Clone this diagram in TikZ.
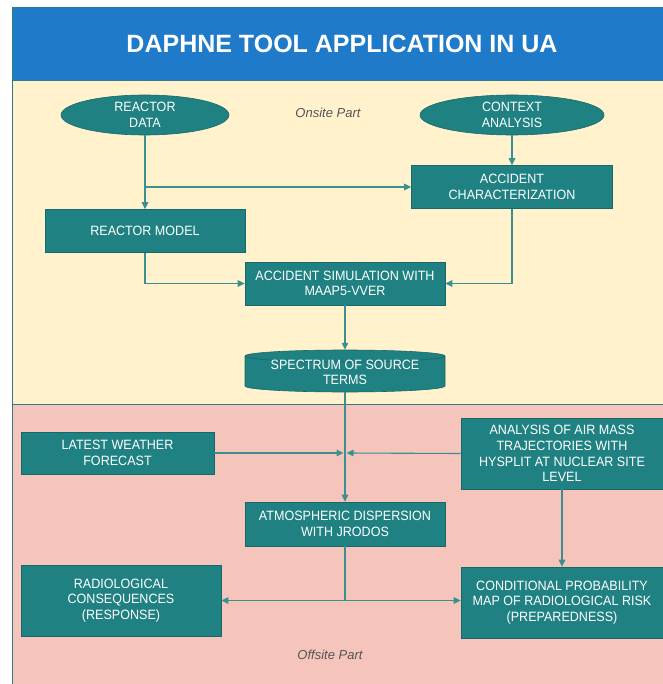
\documentclass[tikz,border=0pt]{standalone}
\usepackage{fontspec}
\setmainfont{Liberation Sans}
\newfontfamily\nodefont[FakeStretch=0.93]{Liberation Sans}
\usetikzlibrary{arrows.meta,positioning,calc,shapes.geometric}
\definecolor{teal1}{HTML}{1F8181}
\definecolor{tealdark}{HTML}{17686A}
\definecolor{lineteal}{HTML}{3A8F90}
\definecolor{titleblue}{HTML}{1F7BC9}
\definecolor{onsite}{HTML}{FFF2CC}
\definecolor{offsite}{HTML}{F5C4BB}
\definecolor{framec}{HTML}{2C7A8A}
\definecolor{partgray}{HTML}{555555}
\begin{document}
\begin{tikzpicture}[x=1pt,y=-1pt,
  box/.style={rectangle,fill=teal1,draw=tealdark,line width=0.6pt,text=white,align=center,
    font=\nodefont\fontsize{13.5}{15.6}\selectfont,inner sep=0pt},
  oval/.style={ellipse,fill=teal1,draw=tealdark,line width=0.6pt,text=white,align=center,
    font=\nodefont\fontsize{13.5}{15.6}\selectfont,inner sep=0pt},
  txtonly/.style={rectangle,align=center,text=white,inner sep=0pt,
    font=\nodefont\fontsize{13.5}{15.6}\selectfont},
  conn/.style={draw=lineteal,line width=1.1pt,-{Triangle[length=7pt,width=6.5pt]}},
  plain/.style={draw=lineteal,line width=1.1pt},
  part/.style={font=\itshape\fontsize{13}{15}\selectfont,text=partgray}
]
\useasboundingbox (0,0) rectangle (662,684);
% bands
\fill[white] (0,0) rectangle (662,684);
\fill[titleblue] (12,8) rectangle (664,81);
\fill[onsite] (12,81) rectangle (664,404);
\fill[offsite] (12,404) rectangle (664,686);
\draw[framec,line width=1pt] (664,8) -- (12,8) -- (12,686);
\draw[framec,line width=1pt] (12,81) -- (664,81);
\draw[framec,line width=1pt] (12,404) -- (664,404);
\node[font=\bfseries\fontsize{25}{28}\selectfont,text=white] (title) at (342,44) {DAPHNE TOOL APPLICATION IN UA};
\node[part] (onp) at (328,113) {Onsite Part};
\node[part] (offp) at (330,655) {Offsite Part};
% nodes
\node[oval,minimum width=168,minimum height=40] (rd) at (145,115) {REACTOR\\DATA};
\node[oval,minimum width=184,minimum height=40] (ca) at (512,115) {CONTEXT\\ANALYSIS};
\node[box,minimum width=201,minimum height=43] (ac) at (512,187) {ACCIDENT\\CHARACTERIZATION};
\node[box,minimum width=200,minimum height=43] (rm) at (145,231) {REACTOR MODEL};
\node[box,minimum width=200,minimum height=43] (as) at (345,283.5) {ACCIDENT SIMULATION WITH\\MAAP5-VVER};
% cylinder
\fill[teal1,draw=tealdark,line width=0.6pt] (245,356) -- (245,386) arc[start angle=180,end angle=0,x radius=100,y radius=6] -- (445,356) arc[start angle=0,end angle=-180,x radius=100,y radius=6] -- cycle;
\draw[tealdark,line width=0.6pt] (245,356) arc[start angle=180,end angle=0,x radius=100,y radius=6];
\node[txtonly,minimum width=200,minimum height=42] (spec) at (345,372.5) {SPECTRUM OF SOURCE\\TERMS};
\node[box,minimum width=193,minimum height=42] (lw) at (117.5,453) {LATEST WEATHER\\FORECAST};
\node[box,minimum width=202,minimum height=71] (am) at (562,453.5) {ANALYSIS OF AIR MASS\\TRAJECTORIES WITH\\HYSPLIT AT NUCLEAR SITE\\LEVEL};
\node[box,minimum width=200,minimum height=44] (ad) at (345,524) {ATMOSPHERIC DISPERSION\\WITH JRODOS};
\node[box,minimum width=200,minimum height=71] (rc) at (121,600.5) {RADIOLOGICAL\\CONSEQUENCES\\(RESPONSE)};
\node[box,minimum width=202,minimum height=71] (cp) at (562,602.5) {CONDITIONAL PROBABILITY\\MAP OF RADIOLOGICAL RISK\\(PREPAREDNESS)};
% connectors
\draw[conn] (rd.south) -- (rm.north);
\draw[conn] (rd.south |- ac.west) -- (ac.west);
\draw[conn] (ca.south) -- (ca.south |- ac.north);
\draw[conn] (rm.south) |- (as.west);
\draw[conn] (ac.south) |- (as.east);
\draw[conn] (as.south) -- ($(spec.north)+(0,-1.5)$);
\draw[conn] ($(spec.south)+(0,-1.5)$) -- (ad.north);
\draw[conn] (lw.east) -- ($(lw.east -| spec.south)+(-1.5,0)$);
\draw[conn] (am.west) -- ($(lw.east -| spec.south)+(1.5,0)$);
\draw[conn] (am.south) -- (cp.north);
\coordinate (split) at (345,600.5);
\draw[plain] (ad.south) -- (split);
\draw[conn] (split) -- (rc.east);
\draw[conn] (split) -- (split -| cp.west);
\end{tikzpicture}
\end{document}
